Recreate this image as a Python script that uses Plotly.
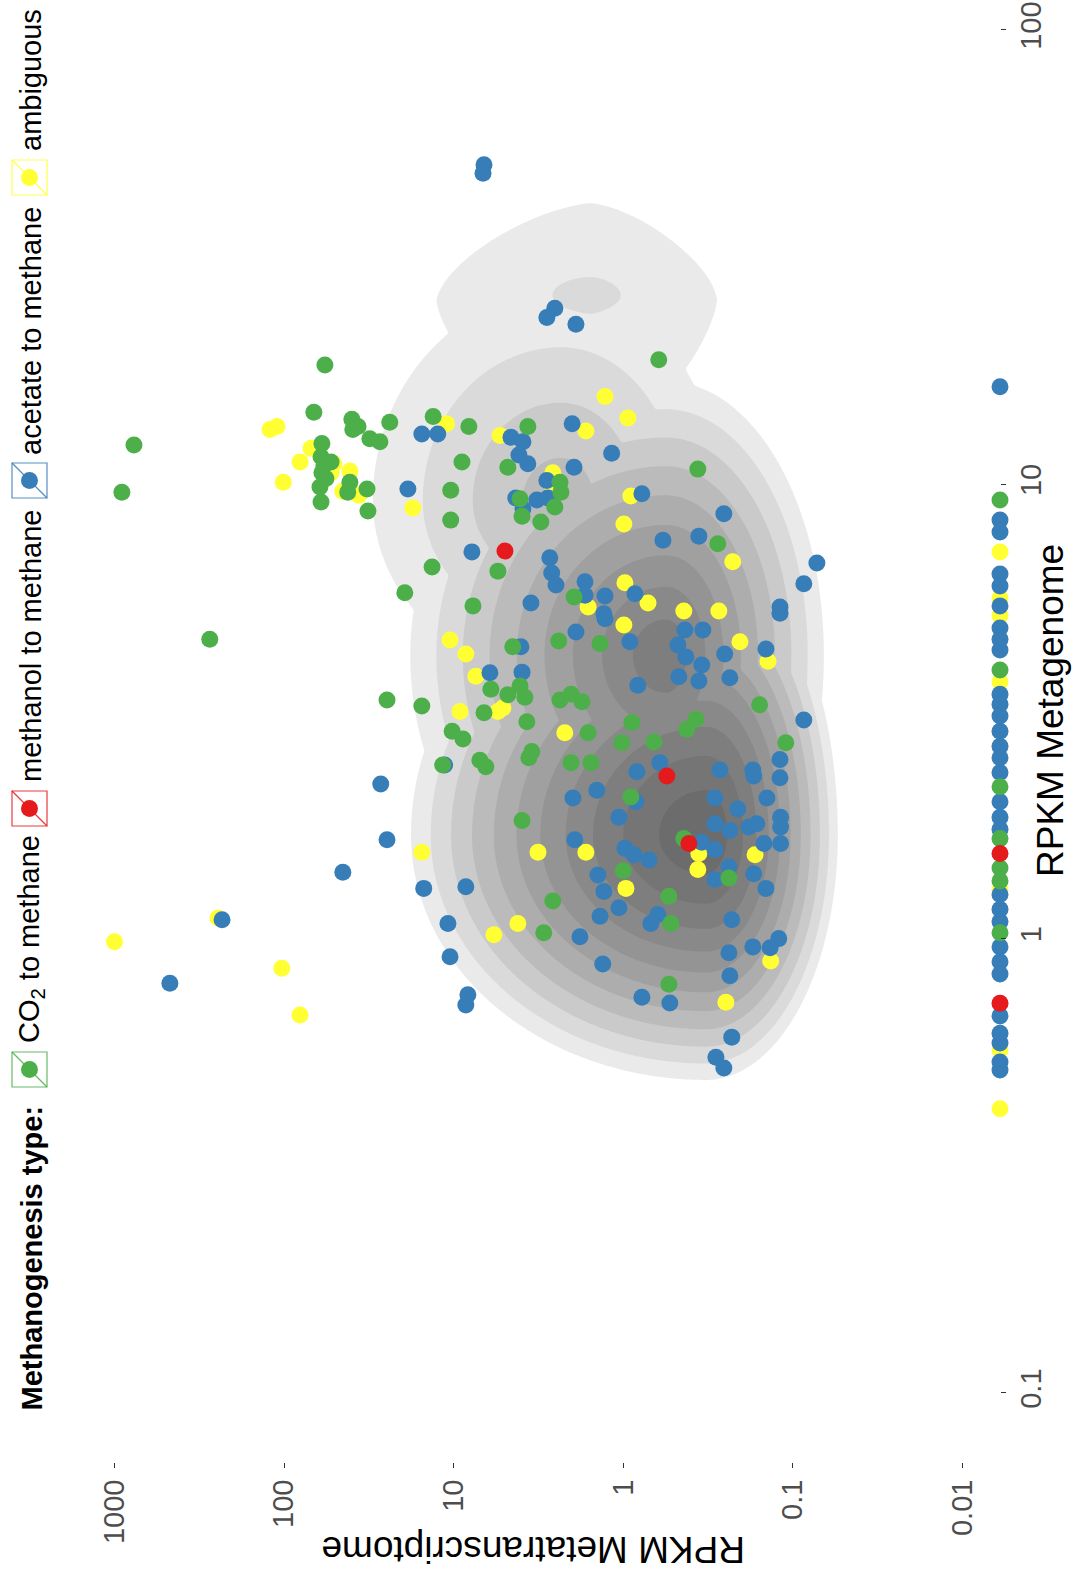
import numpy as np
import plotly.graph_objects as go

FONT = "Liberation Sans, Arial, Helvetica, sans-serif"

# ColorBrewer Set1 colours per methanogenesis type
COL_CO2 = "#4DAF4A"
COL_METHANOL = "#E41A1C"
COL_ACETATE = "#377EB8"
COL_AMBIG = "#FFFF33"

# RPKM values per gene. A metatranscriptome RPKM of 0 means no transcripts
# were mapped; those genes are drawn on the lower edge of the axis.
co2_metagenome = [
    18.3, 14.4, 13.9, 13.4, 13.2, 12.6, 12.4, 13.7, 14.1, 12.2, 9.6, 12.3, 11.5,
    11.2, 11.0, 10.6, 10.3, 9.86, 10.1, 9.6, 9.77, 9.14, 8.73, 9.70, 8.34, 18.8,
    13.4, 13.4, 11.2, 10.9, 10.8, 10.1, 9.6, 9.29, 8.91, 8.51, 8.26, 7.40, 6.58,
    6.44, 5.65, 5.77, 5.40, 4.46, 4.52, 4.39, 3.54, 3.60, 3.40, 3.44, 3.35, 3.45,
    3.32, 3.25, 3.14, 3.00, 2.86, 2.75, 2.84, 2.99, 3.04, 2.89, 3.27, 2.70, 2.71,
    2.70, 2.58, 2.50, 2.44, 2.44, 2.47, 2.39, 2.41, 2.05, 1.82, 1.66, 1.41, 1.36,
    1.21, 1.24, 1.08, 1.03, 0.794, 4.56, 3.35,
    9.23, 3.90, 2.16, 1.66, 1.43, 1.34, 1.03,
]
co2_metatranscriptome = [
    57.4, 66.7, 39.8, 36.6, 39.3, 31.2, 27.2, 23.8, 13.2, 767, 904, 59.8, 60.5,
    52.8, 58.2, 59.8, 56.6, 61.4, 40.9, 42.1, 32.4, 60.5, 32.0, 10.4, 10.4, 0.617,
    8.13, 3.65, 8.93, 4.79, 0.363, 2.36, 2.33, 4.06, 2.53, 3.95, 3.06, 0.277, 13.4,
    5.48, 1.95, 19.4, 7.69, 1.37, 2.40, 4.48, 6.03, 4.06, 3.80, 4.79, 2.36, 2.03,
    1.75, 15.4, 6.62, 3.70, 10.2, 8.81, 1.61, 0.889, 0.372, 0.422, 0.157, 1.02, 0.659,
    0.110, 3.46, 3.60, 2.03, 1.55, 7.00, 6.46, 11.6, 0.902, 3.95, 0.439, 1.00, 0.238,
    2.60, 0.538, 0.524, 2.94, 0.538, 274, 24.7,
    0, 0, 0, 0, 0, 0, 0,
]

methanol_metagenome = [7.13, 2.28, 1.62, 1.54, 0.721]
methanol_metatranscriptome = [4.98, 0.553, 0.410, 0, 0]

acetate_metagenome = [
    50.5, 48.4, 24.4, 23.3, 22.5, 12.9, 12.9, 13.6, 12.7, 12.4, 11.6, 11.1, 11.7,
    10.9, 10.2, 9.77, 9.33, 9.23, 9.33, 8.83, 9.53, 8.61, 7.53, 7.69, 7.10, 6.89,
    6.71, 6.38, 6.00, 6.10, 5.70, 5.68, 5.19, 5.06, 5.74, 5.48, 6.04, 5.37, 5.20,
    4.73, 4.78, 4.78, 4.50, 4.34, 4.39, 4.43, 4.17, 4.00, 4.23, 3.77, 3.69, 3.75,
    3.61, 3.85, 3.86, 3.03, 2.41, 2.44, 2.33, 2.35, 2.35, 2.28, 2.48, 2.26, 2.12,
    2.04, 2.00, 2.04, 1.93, 2.04, 1.85, 1.79, 1.73, 1.76, 1.79, 1.85, 1.76, 1.63,
    1.57, 1.62, 1.62, 1.65, 1.58, 1.53, 1.49, 1.44, 1.35, 1.39, 1.29, 1.29, 1.30,
    1.38, 1.27, 1.17, 1.12, 1.13, 1.08, 1.10, 1.08, 1.01, 1.00, 0.955, 0.959, 0.931,
    0.912, 0.879, 0.828, 0.743, 0.722, 0.752, 0.714, 0.607, 0.548, 0.519, 2.19, 1.65,
    1.40, 1.10, 0.798,
    16.4, 8.34, 7.85, 6.35, 5.97, 5.40, 4.83, 4.56, 4.32, 3.45, 3.28, 3.09, 2.86,
    2.65, 2.50, 2.32, 2.00, 1.85, 1.74, 1.25, 1.16, 1.09, 0.959, 0.889, 0.836,
    0.676, 0.619, 0.589, 0.535, 0.514,
]
acetate_metatranscriptome = [
    6.62, 6.71, 2.53, 2.82, 1.90, 15.4, 12.4, 2.00, 4.59, 3.90, 4.12, 3.65, 1.17,
    1.95, 2.82, 18.6, 4.30, 3.23, 2.78, 3.90, 0.776, 0.255, 0.583, 0.358, 7.80, 2.71,
    0.0721, 2.64, 2.49, 1.68, 1.68, 1.28, 1.30, 1.28, 0.853, 3.50, 0.0861, 0.119, 0.119,
    1.90, 0.433, 0.339, 0.914, 0.144, 4.01, 0.476, 0.427, 0.344, 0.252, 0.470, 0.358, 0.235,
    0.820, 6.11, 3.95, 0.0861, 11.3, 0.608, 0.830, 0.269, 0.172, 0.170, 0.119, 0.119, 1.43,
    1.98, 0.841, 0.288, 0.211, 0.142, 1.06, 0.288, 0.235, 0.182, 0.163, 0.118, 0.118, 0.344,
    0.288, 0.148, 0.118, 1.93, 0.977, 0.865, 0.705, 0.238, 0.288, 0.170, 0.144, 15.0, 8.47,
    1.41, 1.30, 1.06, 1.37, 0.625, 0.687, 0.229, 10.8, 1.80, 0.121, 0.136, 0.172, 0.238,
    10.5, 1.32, 0.235, 0.776, 0.531, 8.24, 8.47, 0.229, 0.284, 0.255, 26.9, 24.7,
    45.0, 232, 471,
    0, 0, 0, 0, 0, 0, 0, 0, 0, 0, 0, 0, 0,
    0, 0, 0, 0, 0, 0, 0, 0, 0, 0, 0, 0,
    0, 0, 0, 0, 0,
]

ambiguous_metagenome = [
    13.2, 13.4, 13.6, 12.0, 11.2, 11.1, 10.6, 10.1, 10.7, 9.66, 9.46, 8.87, 15.6,
    14.0, 13.1, 12.8, 10.6, 9.86, 9.42, 8.18, 6.75, 5.37, 6.07, 5.48, 4.90, 5.26,
    5.26, 4.50, 4.08, 4.54, 4.23, 3.78, 3.16, 3.16, 3.22, 2.84, 1.55, 1.55, 1.55,
    1.54, 1.42, 1.53, 1.29, 1.08, 1.02, 0.893, 0.724, 1.11, 0.984, 0.861, 0.679,
    7.10, 5.62, 5.15, 3.67, 1.28, 0.569, 0.422,
]
ambiguous_metatranscriptome = [
    121, 110, 11.0, 69.3, 80.5, 50.8, 52.8, 101, 40.9, 45.0, 36.2, 17.4, 1.28,
    0.938, 1.66, 5.33, 2.60, 2.60, 0.902, 0.991, 0.226, 1.61, 0.977, 0.714, 0.991, 0.439,
    0.273, 0.205, 0.140, 10.5, 8.47, 7.40, 9.18, 5.48, 5.12, 2.21, 15.4, 3.18, 1.66,
    0.358, 0.363, 0.167, 0.964, 4.18, 5.79, 0.135, 0.248, 245, 1000, 103, 80.5,
    0, 0, 0, 0, 0, 0, 0,
]

# Background gene density (all genes), described as peaked lobes.
# Each lobe: centre metagenome RPKM, centre metatranscriptome RPKM, peak height,
# reach in decades (towards higher / lower metagenome, towards higher / lower
# metatranscriptome), profile exponent of its flanks and outline roundness.
density_lobes = [
    (1.69, 0.325, 1.00, 0.660, 0.572, 1.846, 0.825, 1.40, 2.0),
    (4.21, 0.560, 0.84, 0.660, 0.704, 1.651, 1.020, 1.10, 2.0),
    (9.23, 2.33, 0.40, 0.572, 0.484, 1.386, 1.179, 1.00, 2.0),
    (25.4, 1.55, 0.15, 0.458, 0.660, 1.946, 1.580, 1.00, 1.5),
]
# small knob on top of the upper plateau:
# centre metagenome, centre metatranscriptome, height, spread (decades G, T)
density_knob = (26.5, 1.66, 0.045, 0.040, 0.265)
density_levels = dict(start=0.08, size=0.085, n=11)
density_greys = ["#EAEAEA", "#DADADA", "#CACACA", "#BBBBBB", "#ADADAD", "#A0A0A0",
                 "#949494", "#898989", "#7E7E7E", "#757575", "#6C6C6C"]

ZERO_FLOOR = 0.006  # lower edge of the metatranscriptome axis
x_ticks = [1000, 100, 10, 1, 0.1, 0.01]
x_ticktext = ["1000", "100", "10", "1", "0.1", "0.01"]
y_ticks = [0.1, 1, 10, 100]
y_ticktext = ["0.1", "1", "10", "100"]

# Figure geometry (pixels)
W, H = 1076, 1575
ML, MR, MT, MB = 70, 76, 0, 113
PW, PH = W - ML - MR, H - MT - MB


def px(x):
    return (x - ML) / PW


def py(y):
    return (MT + PH - y) / PH


fig = go.Figure()

# --- density background ---
lt = np.linspace(-2.3, 3.35, 520)
lg = np.linspace(-1.25, 2.15, 520)
LT, LG = np.meshgrid(lt, lg)
dens = np.zeros_like(LT)
for g0, t0, peak, up, down, hi_t, lo_t, q, p in density_lobes:
    dg = LG - np.log10(g0)
    dt = LT - np.log10(t0)
    rg = np.where(dg > 0, dg / up, -dg / down)
    rt = np.where(dt > 0, dt / hi_t, -dt / lo_t)
    r = (rg ** p + rt ** p) ** (1.0 / p)
    dens = np.maximum(dens, peak * np.clip(1 - r ** q, 0, None))
kg, kt, kh, ksg, kst = density_knob
dens = dens + kh * np.exp(-0.5 * ((LG - np.log10(kg)) / ksg) ** 2
                          - 0.5 * ((LT - np.log10(kt)) / kst) ** 2)

n = density_levels["n"]
band_cols = ["rgba(255,255,255,0)"] + density_greys
cscale = [[k / n, c] for k, c in enumerate(band_cols)]
fig.add_trace(go.Contour(
    x=10 ** lt, y=10 ** lg, z=dens,
    contours=dict(start=density_levels["start"],
                  end=density_levels["start"] + density_levels["size"] * (n - 1),
                  size=density_levels["size"], coloring="fill", showlines=False),
    colorscale=cscale, showscale=False, line=dict(width=0),
    hoverinfo="skip",
))


def add_points(meta_g, meta_t, color, name):
    t = np.asarray(meta_t, dtype=float)
    t = np.where(t > 0, t, ZERO_FLOOR)
    fig.add_trace(go.Scatter(
        x=t, y=meta_g, mode="markers", name=name,
        marker=dict(size=17, color=color, line=dict(width=0)),
        cliponaxis=False, showlegend=False,
    ))


add_points(ambiguous_metagenome, ambiguous_metatranscriptome, COL_AMBIG, "ambiguous")
add_points(acetate_metagenome, acetate_metatranscriptome, COL_ACETATE, "acetate to methane")
add_points(co2_metagenome, co2_metatranscriptome, COL_CO2, "CO2 to methane")
add_points(methanol_metagenome, methanol_metatranscriptome, COL_METHANOL, "methanol to methane")

tickfont = dict(family=FONT, size=29, color="#4D4D4D")
fig.update_xaxes(
    type="log", range=[3.262, np.log10(ZERO_FLOOR)],
    tickvals=x_ticks, ticktext=x_ticktext, tickangle=-90,
    ticks="outside", ticklen=5, tickwidth=1, tickcolor="#333333",
    showgrid=False, zeroline=False, showline=False, tickfont=tickfont,
)
fig.update_yaxes(
    type="log", range=[-1.152, 2.066], side="right",
    tickvals=y_ticks, ticktext=y_ticktext, tickangle=-90,
    ticks="outside", ticklen=5, tickwidth=1, tickcolor="#333333",
    showgrid=False, zeroline=False, showline=False, tickfont=tickfont,
)

# --- axis titles ---
annotations = [
    dict(text="RPKM Metatranscriptome", textangle=180, x=px(533.5), y=py(1550),
         xref="paper", yref="paper", xanchor="center", yanchor="middle",
         showarrow=False, font=dict(family=FONT, size=37, color="black")),
    dict(text="RPKM Metagenome", textangle=-90, x=px(1050), y=py(711),
         xref="paper", yref="paper", xanchor="center", yanchor="middle",
         showarrow=False, font=dict(family=FONT, size=37, color="black")),
]

# --- legend (drawn along the left edge) ---
legend_font = dict(family=FONT, size=29, color="black")
annotations.append(dict(text="<b>Methanogenesis type:</b>", textangle=-90,
                        x=px(31), y=py(1413), xref="paper", yref="paper",
                        xanchor="center", yanchor="bottom", showarrow=False,
                        font=legend_font))
legend_items = [
    ("CO<sub>2</sub> to methane", COL_CO2, 1052, 1045),
    ("methanol to methane", COL_METHANOL, 791, 784),
    ("acetate to methane", COL_ACETATE, 463, 457),
    ("ambiguous", COL_AMBIG, 160, 153),
]
shapes = []
KEY = 35
for label, color, key_top, text_bottom in legend_items:
    x0, x1 = 12, 12 + KEY
    y0, y1 = key_top, key_top + KEY
    shapes.append(dict(type="rect", xref="paper", yref="paper",
                       x0=px(x0), x1=px(x1), y0=py(y1), y1=py(y0),
                       line=dict(color=color, width=1.2), fillcolor="white",
                       opacity=0.85, layer="above"))
    shapes.append(dict(type="line", xref="paper", yref="paper",
                       x0=px(x0), y0=py(y0), x1=px(x1), y1=py(y1),
                       line=dict(color=color, width=1.2), opacity=0.85, layer="above"))
    cx, cy, r = (x0 + x1) / 2, (y0 + y1) / 2, 8.5
    shapes.append(dict(type="circle", xref="paper", yref="paper",
                       x0=px(cx - r), x1=px(cx + r), y0=py(cy + r), y1=py(cy - r),
                       line=dict(width=0), fillcolor=color, layer="above"))
    annotations.append(dict(text=label, textangle=-90, x=px(31), y=py(text_bottom),
                            xref="paper", yref="paper", xanchor="center",
                            yanchor="bottom", showarrow=False, font=legend_font))

fig.update_layout(
    width=W, height=H, autosize=False,
    margin=dict(l=ML, r=MR, t=MT, b=MB, pad=0),
    paper_bgcolor="white", plot_bgcolor="white",
    showlegend=False, annotations=annotations, shapes=shapes,
    font=dict(family=FONT),
)

fig.write_html("out.html")
